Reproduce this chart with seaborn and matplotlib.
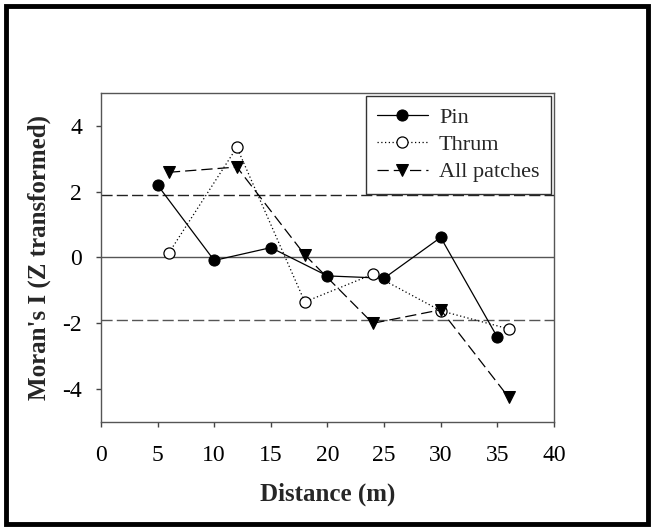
import matplotlib
matplotlib.use("Agg")
import matplotlib.pyplot as plt
import seaborn as sns
import pandas as pd
from matplotlib.patches import Rectangle

pin_dist = [5, 10, 15, 20, 25, 30, 35]
pin_vals = [2.20, -0.09, 0.30, -0.56, -0.63, 0.61, -2.42]
thrum_dist = [6, 12, 18, 24, 30, 36]
thrum_vals = [0.14, 3.35, -1.35, -0.51, -1.62, -2.17]
all_dist = [6, 12, 18, 24, 30, 36]
all_vals = [2.59, 2.75, 0.08, -2.00, -1.59, -4.25]
sig_level = 1.9

x_ticks = [0, 5, 10, 15, 20, 25, 30, 35, 40]
y_ticks = [-4, -2, 0, 2, 4]


def main():
    sns.set_style("ticks")
    plt.rcParams['font.family'] = ['Liberation Serif', 'DejaVu Serif']
    plt.rcParams['axes.unicode_minus'] = False

    fig = plt.figure(figsize=(6.54, 5.29), dpi=100)
    ax = fig.add_axes([0.1544, 0.2023, 0.6926, 0.6219])

    ax.axhline(0, color='#555555', lw=1.0, zorder=1)
    ax.axhline(sig_level, color='#222222', lw=1.0, ls=(0, (8, 3)), zorder=1)
    ax.axhline(-sig_level, color='#555555', lw=1.0, ls=(0, (8, 3)), zorder=1)

    pin = pd.DataFrame({'d': pin_dist, 'v': pin_vals})
    thrum = pd.DataFrame({'d': thrum_dist, 'v': thrum_vals})
    allp = pd.DataFrame({'d': all_dist, 'v': all_vals})

    sns.lineplot(data=pin, x='d', y='v', ax=ax, color='black', lw=0.9,
                 marker='o', markersize=8, markerfacecolor='black',
                 markeredgecolor='black', label='Pin', zorder=3)
    sns.lineplot(data=thrum, x='d', y='v', ax=ax, color='black', lw=0.9,
                 ls=(0, (1, 2)), marker='o', markersize=8,
                 markerfacecolor='white', markeredgecolor='black',
                 markeredgewidth=0.9, label='Thrum', zorder=3)
    sns.lineplot(data=allp, x='d', y='v', ax=ax, color='black', lw=0.9,
                 ls=(0, (9, 4)), marker='v', markersize=8,
                 markerfacecolor='black', markeredgecolor='black',
                 label='All patches', zorder=3)

    ax.set_xlim(0, 40)
    ax.set_ylim(-5, 5)
    ax.set_xticks(x_ticks)
    ax.set_yticks(y_ticks)
    ax.tick_params(labelsize=17, direction='out', length=3.5, color='#444444',
                   width=1.0, labelcolor='black')
    ax.tick_params(axis='x', pad=13)
    ax.tick_params(axis='y', pad=10)
    for s in ax.spines.values():
        s.set_visible(True)
        s.set_color('#555555')
        s.set_linewidth(1.0)

    ax.set_xlabel('Distance (m)', fontsize=18, fontweight='bold', labelpad=12)
    ax.set_ylabel("Moran's I (Z transformed)", fontsize=18, fontweight='bold',
                  labelpad=8)

    leg = ax.legend(loc='upper right', fontsize=16, frameon=True,
                    fancybox=False, framealpha=1, edgecolor='#333333',
                    borderaxespad=0.15, handlelength=2.3, labelspacing=0.3,
                    borderpad=0.5, handletextpad=0.5)
    leg.get_frame().set_linewidth(1.0)

    fig.patches.append(Rectangle((0.009, 0.0095), 0.982, 0.980,
                                 transform=fig.transFigure, fill=False,
                                 edgecolor='black', lw=3.5))

    fig.savefig('out.png', dpi=100)
    plt.close(fig)


if __name__ == "__main__":
    main()
